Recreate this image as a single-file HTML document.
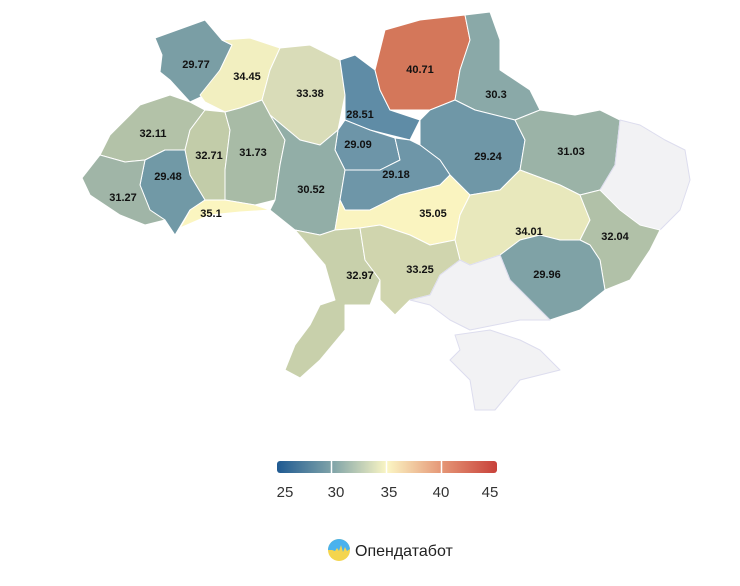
<!DOCTYPE html>
<html><head><meta charset="utf-8"><style>
body{margin:0;background:#fff;width:740px;height:581px;overflow:hidden;font-family:"Liberation Sans",sans-serif}
svg text.l{font:bold 11px "Liberation Sans",sans-serif;fill:#111;text-anchor:middle}
</style></head><body>
<svg width="740" height="581" xmlns="http://www.w3.org/2000/svg">
<defs><linearGradient id="g" x1="0" x2="1"><stop offset="0" stop-color="#1f5a92"/><stop offset="0.25" stop-color="#7fa3a8"/><stop offset="0.5" stop-color="#fbf6c4"/><stop offset="0.75" stop-color="#e59676"/><stop offset="1" stop-color="#c8413a"/></linearGradient></defs>
<g stroke="#fff" stroke-width="1" stroke-linejoin="round">
<polygon fill="#7a9ea5" points="155,38 205,20 222,40 232,45 220,70 205,95 190,102 170,80 160,72 162,55"/>
<polygon fill="#f2efc0" points="222,40 250,38 280,48 270,70 262,100 240,108 225,112 205,102 200,95 220,70 232,45"/>
<polygon fill="#d9dcb8" points="280,48 310,45 340,60 345,95 338,130 320,145 300,140 270,115 262,100 270,70"/>
<polygon fill="#5f8ca6" points="340,60 355,55 375,70 380,90 390,110 420,120 410,140 370,130 345,120 345,95"/>
<polygon fill="#6d95a8" points="338,130 345,120 370,130 395,138 400,160 380,170 345,170 335,150"/>
<polygon fill="#d4775a" points="375,70 385,30 420,20 465,15 470,40 460,70 455,100 430,110 390,110 380,90"/>
<polygon fill="#8aa9a8" points="465,15 490,12 500,40 500,70 530,90 540,110 515,120 475,110 455,100 460,70 470,40"/>
<polygon fill="#6f97a7" points="430,110 455,100 475,110 515,120 525,140 520,170 500,190 470,195 450,175 440,160 420,145 420,120"/>
<polygon fill="#9bb3a7" points="515,120 540,110 575,115 600,110 620,120 615,165 600,190 580,195 560,185 520,170 525,140"/>
<polygon fill="#f2f2f4" stroke="#dde" points="620,120 640,125 665,140 685,150 690,180 680,210 660,230 640,225 620,210 600,190 615,165"/>
<polygon fill="#b3c2a8" points="100,155 110,135 140,105 170,95 190,102 205,110 190,130 185,150 165,150 145,160 125,162"/>
<polygon fill="#c2cca9" points="190,130 205,110 225,112 230,130 225,170 225,200 205,200 190,175 185,150"/>
<polygon fill="#a8bba6" points="225,112 240,108 262,100 270,115 285,140 280,165 275,200 255,205 225,200 225,170 230,130"/>
<polygon fill="#7199a6" points="145,160 165,150 185,150 190,175 205,200 190,210 175,235 165,220 150,210 140,185"/>
<polygon fill="#a0b5a7" points="100,155 125,162 145,160 140,185 150,210 165,220 145,225 120,215 90,195 82,178"/>
<polygon fill="#fbf5c0" points="190,210 205,200 225,200 255,205 270,210 240,212 210,215 180,228"/>
<polygon fill="#92aea7" points="270,115 300,140 320,145 338,130 335,150 345,170 340,200 335,230 320,235 295,230 270,210 275,200 280,165 285,140"/>
<polygon fill="#6e96a8" points="345,170 380,170 400,160 395,138 410,140 420,145 440,160 450,175 440,185 420,190 400,195 370,210 345,210 340,200"/>
<polygon fill="#faf4c0" points="345,210 370,210 400,195 420,190 440,185 450,175 470,195 460,215 455,240 430,245 410,235 380,225 360,228 335,230 340,200"/>
<polygon fill="#e8e8bc" points="470,195 500,190 520,170 560,185 580,195 590,220 580,240 560,240 540,235 520,240 500,255 470,265 460,260 455,240 460,215"/>
<polygon fill="#b1c1a8" points="580,195 600,190 620,210 640,225 660,230 650,250 640,265 630,280 605,290 600,260 590,245 580,240 590,220"/>
<polygon fill="#c8d0ab" points="295,230 320,235 335,230 360,228 365,260 380,280 370,305 345,305 345,330 320,360 300,378 285,370 295,345 310,325 320,305 335,300 325,265"/>
<polygon fill="#d0d5ae" points="360,228 380,225 410,235 430,245 455,240 460,260 440,275 430,295 410,300 395,315 380,300 380,280 365,260"/>
<polygon fill="#7fa2a6" points="500,255 520,240 540,235 560,240 580,240 590,245 600,260 605,290 580,310 550,320 530,300 510,280"/>
<polygon fill="#f2f2f4" stroke="#dde" points="440,275 460,260 470,265 500,255 510,280 530,300 550,320 520,320 495,325 470,330 450,320 430,305 410,300 430,295"/>
<polygon fill="#f2f2f4" stroke="#dde" points="455,335 490,330 520,340 540,350 560,370 540,375 520,380 495,410 475,410 470,380 450,360 460,350"/>
</g>
<g>
<text class="l" x="196" y="68">29.77</text><text class="l" x="247" y="80">34.45</text>
<text class="l" x="310" y="97">33.38</text><text class="l" x="360" y="118">28.51</text>
<text class="l" x="420" y="73">40.71</text><text class="l" x="496" y="98">30.3</text>
<text class="l" x="153" y="137">32.11</text><text class="l" x="209" y="159">32.71</text>
<text class="l" x="253" y="156">31.73</text><text class="l" x="358" y="148">29.09</text>
<text class="l" x="488" y="160">29.24</text><text class="l" x="571" y="155">31.03</text>
<text class="l" x="168" y="180">29.48</text><text class="l" x="123" y="201">31.27</text>
<text class="l" x="311" y="193">30.52</text><text class="l" x="396" y="178">29.18</text>
<text class="l" x="211" y="217">35.1</text><text class="l" x="433" y="217">35.05</text>
<text class="l" x="529" y="235">34.01</text><text class="l" x="615" y="240">32.04</text>
<text class="l" x="360" y="279">32.97</text><text class="l" x="420" y="273">33.25</text>
<text class="l" x="547" y="278">29.96</text>
</g>
<rect x="277" y="461" width="220" height="12" rx="3" fill="url(#g)"/>
<g stroke="#fff" stroke-width="1.5"><line x1="331.5" y1="461" x2="331.5" y2="473"/><line x1="386.5" y1="461" x2="386.5" y2="473"/><line x1="441.5" y1="461" x2="441.5" y2="473"/></g>
<g font-size="15" fill="#333" text-anchor="middle" font-family="Liberation Sans,sans-serif">
<text x="285" y="497">25</text><text x="336" y="497">30</text><text x="389" y="497">35</text><text x="441" y="497">40</text><text x="490" y="497">45</text></g>
<clipPath id="c"><circle cx="339" cy="550" r="11"/></clipPath>
<g clip-path="url(#c)"><rect x="328" y="539" width="22" height="22" fill="#f4d54e"/><path d="M328 539h22v10l-3 2-2-4-2 5-2-7-2 6-2-3-2 3-3-1-4 0z" fill="#4ab2ee"/></g>
<text x="355" y="556" font-size="16" fill="#222" font-family="Liberation Sans,sans-serif">Опендатабот</text>
</svg>
</body></html>
